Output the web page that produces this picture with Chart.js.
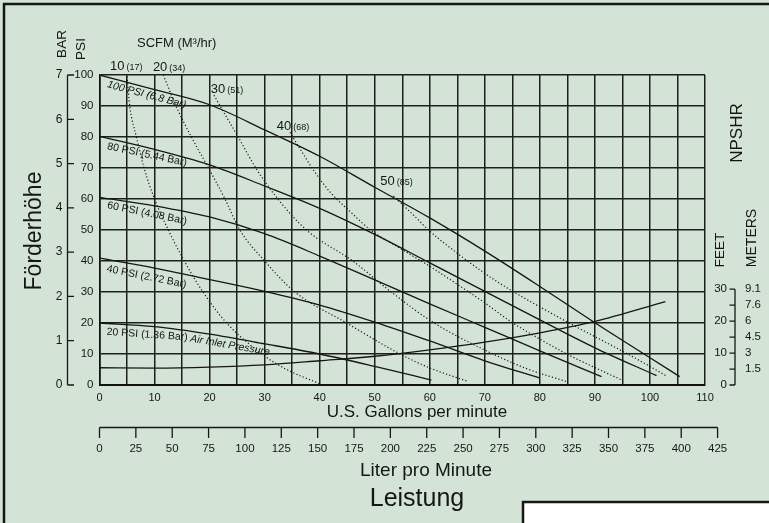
<!DOCTYPE html>
<html>
<head>
<meta charset="utf-8">
<script src="https://cdn.jsdelivr.net/npm/chart.js@4.4.1/dist/chart.umd.min.js"></script>
<style>
  html, body { margin: 0; padding: 0; background: #d3e4d7; }
  canvas { display: block; }
</style>
</head>
<body>
<canvas id="pumpChart" width="769" height="523"></canvas>
<script>
// air inlet pressure curves (US gpm -> psi)
const psi100Flow = [0, 10, 20, 30, 40, 50, 60, 70, 80, 90, 100, 105.4];
const psi100Head = [100, 95.3, 90.4, 82.3, 73.8, 63.8, 53.9, 43.2, 31.8, 20.1, 8.8, 2.7];
const psi80Flow = [0, 10, 20, 30, 40, 50, 60, 70, 80, 90, 101.2];
const psi80Head = [80.2, 76, 71, 64.2, 57, 48.6, 39.4, 30.2, 21, 12, 3];
const psi60Flow = [0, 10, 20, 30, 40, 50, 60, 70, 80, 91.2];
const psi60Head = [60.5, 57.8, 54.2, 48.8, 41.6, 33.9, 26.2, 18.6, 11, 2.7];
const psi40Flow = [0, 10, 20, 30, 40, 50, 60, 70, 80];
const psi40Head = [40.9, 37.7, 34, 30.2, 25.8, 20.3, 14.2, 7.8, 2.2];
const psi20Flow = [0, 10, 20, 30, 40, 50, 60.3];
const psi20Head = [20, 18.8, 16.4, 13.3, 10, 6, 1.6];

// air consumption curves (SCFM)
const scfm10Flow = [5, 5.5, 6.7, 8.1, 10, 12.5, 15.4, 18.8, 23.1, 29.5, 34, 40];
const scfm10Head = [99.5, 90, 80, 70, 60, 50, 40, 30, 20, 10, 5, 0.4];
const scfm20Flow = [11.6, 13.9, 16.7, 19.8, 22.8, 25.5, 30, 35.5, 44.9, 54.6, 60, 67];
const scfm20Head = [100, 90, 80, 70, 60, 50, 40, 30, 20, 10, 5.5, 1.1];
const scfm30Flow = [20.8, 21.9, 25.2, 28.4, 32.4, 37.6, 46, 53, 60.8, 71.5, 78, 84.9];
const scfm30Head = [93.5, 90, 80, 70, 60, 50, 40, 30, 20, 10, 5, 1.1];
const scfm40Flow = [34.6, 36.5, 39, 42, 45.5, 49.1, 54.6, 60, 64.3, 70, 74.6, 80, 85, 90, 94.9];
const scfm40Head = [81.5, 76, 69, 62, 56, 50.2, 44.1, 38.3, 33.3, 26.5, 20.6, 14.8, 9.9, 5.6, 1.6];
const scfm50Flow = [53.4, 55, 57.5, 59.7, 65, 70, 72.7, 75, 80, 85, 90, 95, 100, 103];
const scfm50Head = [61, 58.3, 54, 50.1, 42.5, 36, 32.8, 30.3, 25.2, 20.3, 15.6, 10.9, 6, 2.9];

// NPSHR (feet)
const npshrFlow = [0, 10, 20, 30, 40, 50, 60, 70, 80, 90, 102.8];
const npshrFeet = [5.4, 5.3, 5.6, 6.3, 7.6, 9.0, 11.0, 13.4, 16.3, 19.9, 26.1];

// labels and tick values
const pressureLabels = ['100 PSI (6.8 Bar)', '80 PSI (5.44 Bar)', '60 PSI (4.08 Bar)', '40 PSI (2.72 Bar)', '20 PSI (1.36 Bar)'];
const scfmLabels = ['10', '20', '30', '40', '50'];
const m3hLabels = ['(17)', '(34)', '(51)', '(68)', '(85)'];
const barTicks = [0, 1, 2, 3, 4, 5, 6, 7];
const feetTicks = [0, 5, 10, 15, 20, 25, 30];
const feetLabels = ['0', '', '10', '', '20', '', '30'];
const meterLabels = ['', '1.5', '3', '4.5', '6', '7.6', '9.1'];
const literTicks = [0, 25, 50, 75, 100, 125, 150, 175, 200, 225, 250, 275, 300, 325, 350, 375, 400, 425];

const PSI_PER_BAR = 100 / 7;
const FT_SCALE = 1.03;
const L_PER_GAL = 3.785;
const FONT = '"Liberation Sans", Arial, Helvetica, sans-serif';
const INK = '#161616';
const BG = '#d3e4d7';

Chart.defaults.font.family = FONT;
Chart.defaults.color = INK;

const pts = (xs, ys, k = 1) => xs.map((x, i) => ({ x: x, y: ys[i] * k }));

const solid = (xs, ys, k) => ({
    data: pts(xs, ys, k), showLine: true, pointRadius: 0,
    borderColor: INK, borderWidth: 1.3, cubicInterpolationMode: 'monotone'
});
const dotted = (xs, ys) => ({
    data: pts(xs, ys), showLine: true, pointRadius: 0,
    borderColor: INK, borderWidth: 1.2, borderDash: [1.2, 2.2], cubicInterpolationMode: 'monotone'
});

const datasets = [
    solid(psi100Flow, psi100Head), solid(psi80Flow, psi80Head), solid(psi60Flow, psi60Head),
    solid(psi40Flow, psi40Head), solid(psi20Flow, psi20Head),
    dotted(scfm10Flow, scfm10Head), dotted(scfm20Flow, scfm20Head), dotted(scfm30Flow, scfm30Head),
    dotted(scfm40Flow, scfm40Head), dotted(scfm50Flow, scfm50Head),
    solid(npshrFlow, npshrFeet, FT_SCALE)
];

// label anchors in chart units: [gpm, psi, angle]
const pressureSpots = [[1.45, 97.0, 15], [1.43, 77.0, 12], [1.43, 58.0, 11.6], [1.33, 37.5, 11.5], [1.31, 17.1, 3.8]];
const scfmSpots = [[1.9, 102.7], [9.7, 102.3], [20.2, 95.2], [32.2, 83.5], [51.0, 65.6]];

function text(ctx, str, x, y, font, align, deg) {
    ctx.save();
    ctx.translate(x, y);
    if (deg) ctx.rotate(deg * Math.PI / 180);
    ctx.font = font;
    ctx.textAlign = align || 'left';
    ctx.textBaseline = 'middle';
    ctx.fillText(str, 0, 0);
    ctx.restore();
}

const extras = {
    id: 'extras',
    beforeDraw(chart) {
        const ctx = chart.ctx;
        ctx.save();
        ctx.fillStyle = BG;
        ctx.fillRect(0, 0, chart.width, chart.height);
        ctx.restore();
    },
    afterDatasetsDraw(chart) {
        const ctx = chart.ctx;
        const xs = chart.scales.x, ys = chart.scales.y;
        ctx.save();
        ctx.fillStyle = INK;
        pressureLabels.forEach((lab, i) => {
            const [gx, gy, a] = pressureSpots[i];
            const f = (i === 0 ? 'italic ' : '') + '10.5px ' + FONT;
            text(ctx, lab, xs.getPixelForValue(gx), ys.getPixelForValue(gy), f, 'left', a);
        });
        text(ctx, 'Air Inlet Pressure', xs.getPixelForValue(16.5), ys.getPixelForValue(15.0), 'italic 10.5px ' + FONT, 'left', 9.9);

        scfmLabels.forEach((lab, i) => {
            const [gx, gy] = scfmSpots[i];
            const px = xs.getPixelForValue(gx), py = ys.getPixelForValue(gy);
            ctx.font = '13px ' + FONT;
            const w = ctx.measureText(lab).width;
            text(ctx, lab, px, py, '13px ' + FONT, 'left');
            text(ctx, m3hLabels[i], px + w + 2, py + 1, '9px ' + FONT, 'left');
        });
        ctx.restore();
    },
    afterDraw(chart) {
        const ctx = chart.ctx;
        const xs = chart.scales.x, ys = chart.scales.y;
        ctx.save();
        ctx.strokeStyle = INK;
        ctx.fillStyle = INK;
        ctx.lineWidth = 1.3;

        // bar axis
        const barX = 67.5;
        ctx.beginPath();
        ctx.moveTo(barX, ys.getPixelForValue(0));
        ctx.lineTo(barX, ys.getPixelForValue(7 * PSI_PER_BAR));
        barTicks.forEach(b => {
            const py = ys.getPixelForValue(b * PSI_PER_BAR);
            ctx.moveTo(barX, py);
            ctx.lineTo(barX + 6.5, py);
        });
        ctx.stroke();
        barTicks.forEach(b => {
            text(ctx, String(b), barX - 5, ys.getPixelForValue(b * PSI_PER_BAR), '12px ' + FONT, 'right');
        });

        // NPSHR feet / meters axis
        const ftX = 735;
        ctx.beginPath();
        ctx.moveTo(ftX, ys.getPixelForValue(0));
        ctx.lineTo(ftX, ys.getPixelForValue(30 * FT_SCALE));
        feetTicks.forEach(f => {
            const py = ys.getPixelForValue(f * FT_SCALE);
            ctx.moveTo(ftX, py);
            ctx.lineTo(ftX - 5.5, py);
        });
        ctx.stroke();
        feetTicks.forEach((f, i) => {
            const py = ys.getPixelForValue(f * FT_SCALE);
            if (feetLabels[i]) text(ctx, feetLabels[i], ftX - 8, py, '11.5px ' + FONT, 'right');
            if (meterLabels[i]) text(ctx, meterLabels[i], ftX + 10, py, '11.5px ' + FONT, 'left');
        });

        // liter per minute axis
        const litY = 427.5;
        ctx.beginPath();
        ctx.moveTo(xs.getPixelForValue(0), litY);
        ctx.lineTo(xs.getPixelForValue(425 / L_PER_GAL), litY);
        literTicks.forEach(l => {
            const px = xs.getPixelForValue(l / L_PER_GAL);
            ctx.moveTo(px, litY);
            ctx.lineTo(px, litY + 10.5);
        });
        ctx.stroke();
        literTicks.forEach(l => {
            text(ctx, String(l), xs.getPixelForValue(l / L_PER_GAL), litY + 21, '11.5px ' + FONT, 'center');
        });

        // titles
        text(ctx, 'SCFM (M³/hr)', 137, 43, '13px ' + FONT, 'left');
        text(ctx, 'BAR', 62.5, 44, '13.5px ' + FONT, 'center', -90);
        text(ctx, 'PSI', 81.5, 49, '13.5px ' + FONT, 'center', -90);
        text(ctx, 'Förderhöhe', 35, 231, '23px ' + FONT, 'center', -90);
        text(ctx, 'NPSHR', 737, 133, '17px ' + FONT, 'center', -90);
        text(ctx, 'FEET', 720, 250, '13.5px ' + FONT, 'center', -90);
        text(ctx, 'METERS', 752, 238, '14px ' + FONT, 'center', -90);
        text(ctx, 'U.S. Gallons per minute', 417, 412, '17px ' + FONT, 'center');
        text(ctx, 'Liter pro Minute', 426, 471, '19px ' + FONT, 'center');
        text(ctx, 'Leistung', 417, 499, '25px ' + FONT, 'center');

        // frame and lower right box
        ctx.lineWidth = 2.5;
        ctx.beginPath();
        ctx.moveTo(4, chart.height);
        ctx.lineTo(4, 4);
        ctx.lineTo(chart.width, 4);
        ctx.stroke();
        ctx.fillStyle = '#ffffff';
        ctx.fillRect(523, 502, 260, 40);
        ctx.strokeRect(523, 502, 260, 40);
        ctx.restore();
    }
};

new Chart(document.getElementById('pumpChart').getContext('2d'), {
    type: 'scatter',
    data: { datasets: datasets },
    options: {
        responsive: false,
        animation: false,
        devicePixelRatio: 1,
        layout: { padding: { left: 0, right: 64, top: 75, bottom: 0 } },
        plugins: { legend: { display: false }, tooltip: { enabled: false } },
        scales: {
            x: {
                type: 'linear', min: 0, max: 110,
                grid: { color: '#1e1e1e', lineWidth: 1.5, drawTicks: false },
                border: { color: '#111', width: 2 },
                ticks: {
                    stepSize: 5, autoSkip: false, maxRotation: 0, padding: 6,
                    font: { size: 11 }, color: INK,
                    callback: v => v % 10 === 0 ? v : ''
                },
                afterFit(s) { s.height = 138; }
            },
            y: {
                type: 'linear', min: 0, max: 100,
                grid: { color: '#1e1e1e', lineWidth: 1.5, drawTicks: false },
                border: { color: '#111', width: 1.6 },
                ticks: { stepSize: 10, padding: 6, font: { size: 11.5 }, color: INK },
                afterFit(s) { s.width = 99.5; }
            }
        }
    },
    plugins: [extras]
});
</script>
</body>
</html>
